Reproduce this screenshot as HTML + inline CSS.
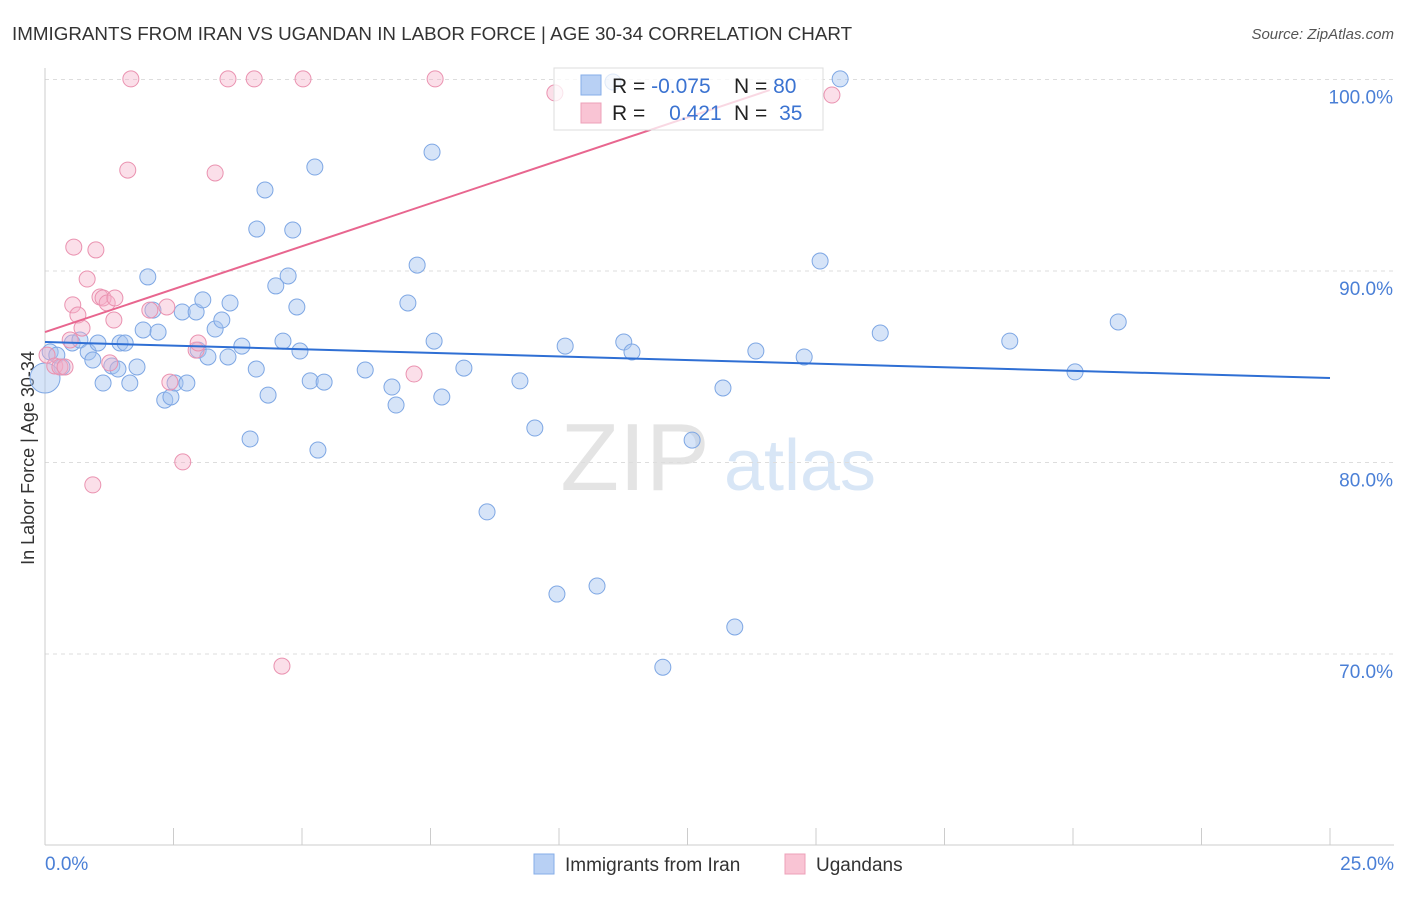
<!DOCTYPE html>
<html><head><meta charset="utf-8"><style>
body{margin:0;background:#fff;font-family:"Liberation Sans",sans-serif;}
svg text{font-family:"Liberation Sans",sans-serif;}
</style></head><body>
<svg id="chart" width="1406" height="892" viewBox="0 0 1406 892">
<text x="12" y="40" font-size="18.8" fill="#333">IMMIGRANTS FROM IRAN VS UGANDAN IN LABOR FORCE | AGE 30-34 CORRELATION CHART</text>
<text x="1394" y="39" font-size="15" fill="#555" font-style="italic" text-anchor="end">Source: ZipAtlas.com</text>
<text x="34" y="458" font-size="18" fill="#333" text-anchor="middle" transform="rotate(-90 34 458)">In Labor Force | Age 30-34</text>
<g><text x="635" y="490" font-size="96" fill="#e4e4e4" font-family="Liberation Serif" text-anchor="middle">ZIP</text><text x="800" y="490" font-size="72" fill="#d8e6f6" text-anchor="middle">atlas</text></g>
<g id="grid"></g><g id="axes"></g><g id="marks"></g>
<g>
<rect x="554" y="68" width="269" height="62" fill="#fff" fill-opacity="0.75" stroke="#ddd"/>
<rect x="581" y="75" width="20" height="20" fill="#b8d0f4" stroke="#86aee8"/>
<rect x="581" y="103" width="20" height="20" fill="#f9c4d4" stroke="#eda0b8"/>
<text x="612" y="93" font-size="21" fill="#222">R = <tspan fill="#3b73d1">-0.075</tspan></text>
<text x="734" y="93" font-size="21" fill="#222">N = <tspan fill="#3b73d1">80</tspan></text>
<text x="612" y="120" font-size="21" fill="#222">R = <tspan fill="#3b73d1" dx="18">0.421</tspan></text>
<text x="734" y="120" font-size="21" fill="#222">N = <tspan fill="#3b73d1" dx="6">35</tspan></text>
</g>
<g>
<rect x="534" y="854" width="20" height="20" fill="#b8d0f4" stroke="#86aee8"/>
<text x="565" y="871" font-size="19" fill="#333">Immigrants from Iran</text>
<rect x="785" y="854" width="20" height="20" fill="#f9c4d4" stroke="#eda0b8"/>
<text x="816" y="871" font-size="19" fill="#333">Ugandans</text>
</g>
</svg>
<script>
const blueX=[0.10,0.23,0.33,0.53,0.68,0.84,0.93,1.03,1.13,1.30,1.42,1.46,1.56,1.65,1.79,1.91,2.00,2.10,2.20,2.33,2.45,2.53,2.67,2.76,2.94,2.98,3.07,3.17,3.31,3.44,3.56,3.60,3.83,3.99,4.11,4.12,4.28,4.34,4.49,4.63,4.73,4.82,4.90,4.96,5.16,5.25,5.31,5.43,6.23,6.75,6.83,7.06,7.24,7.53,7.57,7.72,8.15,8.60,9.24,9.53,9.96,10.12,10.74,11.05,11.26,11.42,12.02,12.59,13.19,13.42,13.83,14.77,15.08,15.47,16.25,18.77,20.04,20.88,0];
const blueY=[85.77,85.61,84.99,86.24,86.40,85.77,85.35,86.24,84.15,85.04,84.88,86.24,86.24,84.15,84.99,86.92,89.69,87.96,86.81,83.26,83.42,84.15,87.86,84.15,87.86,85.87,88.49,85.51,86.97,87.44,85.51,88.33,86.08,81.23,84.88,92.19,94.23,83.52,89.22,86.34,89.74,92.14,88.12,85.82,84.26,95.43,80.65,84.20,84.83,83.94,83.00,88.33,90.31,96.21,86.34,83.42,84.93,77.42,84.26,81.80,73.13,86.08,73.55,99.87,86.29,85.77,69.31,81.17,83.89,71.41,85.82,85.51,90.52,100.03,86.76,86.34,84.73,87.34,84.41];
const pinkX=[0.04,0.19,0.29,0.39,0.49,0.54,0.56,0.64,0.72,0.82,0.99,1.07,1.13,1.21,1.26,1.34,1.61,1.67,2.04,2.37,2.43,2.68,2.94,2.98,3.31,3.56,4.07,4.61,5.02,7.18,7.59,9.92,15.31,0.93,1.36];
const pinkY=[85.61,85.04,84.99,84.99,86.40,88.23,91.25,87.70,87.02,89.58,91.10,88.64,88.59,88.33,85.20,87.44,95.27,100.03,87.96,88.12,84.20,80.03,85.87,86.24,95.12,100.03,100.03,69.37,100.03,84.62,100.03,99.30,99.19,78.83,88.59];
const blueTrend=[[0,86.29],[25,84.41]];
const pinkTrend=[[0,86.81],[14.1,99.45]];
const yTicks=[100,90,80,70];
const xTicks=[0,2.5,5,7.5,10,12.5,15,17.5,20,22.5,25];
const NS='http://www.w3.org/2000/svg';
const X=v=>45+v*(1285/25);
const Y=v=>79.5+(100-v)*19.15;
function mk(tag,attrs,parent){const e=document.createElementNS(NS,tag);for(const k in attrs)e.setAttribute(k,attrs[k]);document.getElementById(parent).appendChild(e);return e;}
yTicks.forEach(t=>{
 const l=mk('line',{x1:45,x2:1394,y1:Y(t),y2:Y(t),stroke:'#ddd','stroke-dasharray':'4 4'},'grid');
 
 
 const tx=mk('text',{x:1393,y:Y(t)+24,'font-size':19,fill:'#4a7fd6','text-anchor':'end'},'axes');
 tx.textContent=t.toFixed(1)+'%';
 
 
});
const ax=mk('line',{x1:45,x2:45,y1:68,y2:845,stroke:'#ccc'},'axes');


const bx=mk('line',{x1:45,x2:1394,y1:845,y2:845,stroke:'#ccc'},'axes');


xTicks.forEach(t=>{
 const l=mk('line',{x1:X(t),x2:X(t),y1:828,y2:845,stroke:'#ccc'},'axes');
 
 
});
[[0,'0.0%','start',45],[25,'25.0%','end',1394]].forEach(a=>{
 const tx=mk('text',{x:a[3],y:870,'font-size':19,fill:'#4a7fd6','text-anchor':a[2]},'axes');
 tx.textContent=a[1];
 
 
});
blueX.forEach((v,i)=>{
 const c=mk('circle',{cx:X(v),cy:Y(blueY[i]),r:i===blueX.length-1?15:8,fill:'rgba(163,196,240,0.45)',stroke:'#7ea7e4','stroke-width':1},'marks');
 
 
});
pinkX.forEach((v,i)=>{
 const c=mk('circle',{cx:X(v),cy:Y(pinkY[i]),r:8,fill:'rgba(246,176,200,0.4)',stroke:'#ea92b0','stroke-width':1},'marks');
 
 
});
const bl=mk('line',{x1:X(blueTrend[0][0]),y1:Y(blueTrend[0][1]),x2:X(blueTrend[1][0]),y2:Y(blueTrend[1][1]),stroke:'#2f6fd4','stroke-width':2},'marks');


const pl=mk('line',{x1:X(pinkTrend[0][0]),y1:Y(pinkTrend[0][1]),x2:X(pinkTrend[1][0]),y2:Y(pinkTrend[1][1]),stroke:'#e8668f','stroke-width':2},'marks');


</script>
</body></html>
